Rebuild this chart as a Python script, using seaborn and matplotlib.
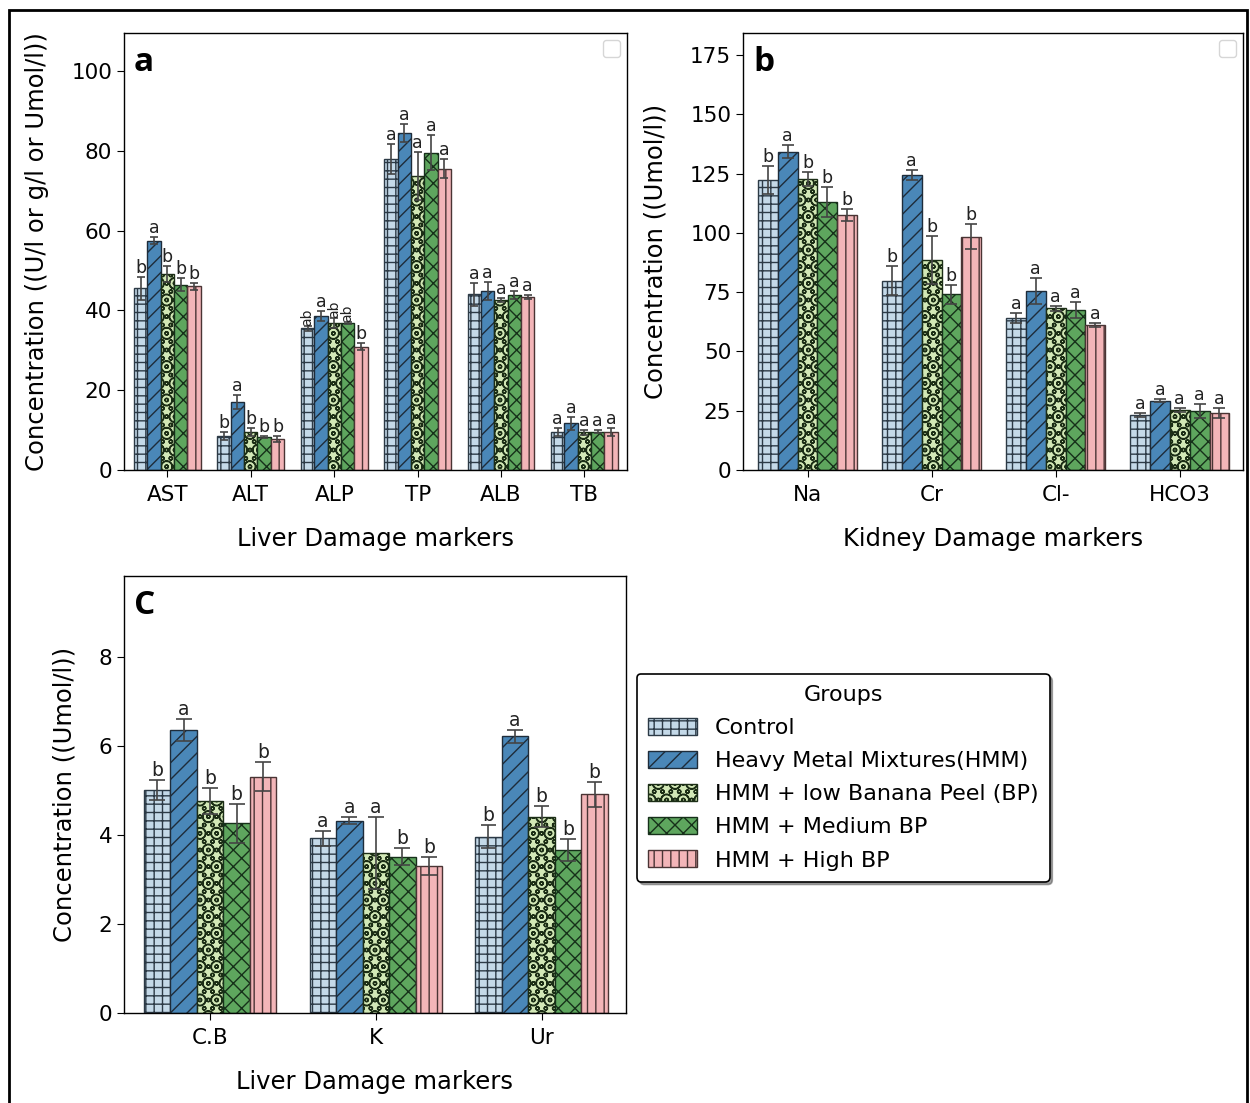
import numpy as np
import pandas as pd
import matplotlib

matplotlib.use("Agg")
import matplotlib.pyplot as plt
from matplotlib.patches import Patch, Rectangle
import seaborn as sns

# ---------------------------------------------------------------
# data (mean, error, letter)
# ---------------------------------------------------------------
groups = ["Control", "Heavy Metal Mixtures(HMM)", "HMM + low Banana Peel (BP)",
          "HMM + Medium BP", "HMM + High BP"]

liver_markers = ["AST", "ALT", "ALP", "TP", "ALB", "TB"]
liver_means = [
    [45.5, 8.5, 35.5, 77.9, 44.0, 9.4],
    [57.5, 17.1, 38.6, 84.5, 44.9, 11.7],
    [49.0, 9.4, 36.8, 73.7, 42.6, 9.4],
    [46.4, 8.2, 36.9, 79.5, 43.9, 9.6],
    [46.0, 7.8, 30.9, 75.5, 43.4, 9.4],
]
liver_errs = [
    [2.8, 0.9, 0.6, 3.7, 2.8, 1.0],
    [1.0, 1.7, 1.3, 2.2, 2.3, 1.7],
    [2.0, 1.0, 1.2, 6.0, 0.4, 0.6],
    [1.6, 0.3, 0.3, 4.4, 1.0, 0.3],
    [0.8, 0.7, 0.8, 2.3, 0.5, 1.0],
]
liver_letters = [
    ["b", "b", "ab", "a", "a", "a"],
    ["a", "a", "a", "a", "a", "a"],
    ["b", "b", "ab", "a", "a", "a"],
    ["b", "b", "ab", "a", "a", "a"],
    ["b", "b", "b", "a", "a", "a"],
]

kidney_markers = ["Na", "Cr", "Cl-", "HCO3"]
kidney_means = [
    [122.3, 79.8, 64.0, 23.2],
    [134.2, 124.4, 75.6, 29.2],
    [122.7, 88.6, 68.2, 25.3],
    [113.2, 74.1, 67.5, 25.0],
    [107.5, 98.4, 61.1, 23.9],
]
kidney_errs = [
    [6.0, 6.2, 2.1, 0.7],
    [2.8, 2.1, 5.5, 0.7],
    [2.8, 10.0, 1.0, 1.0],
    [6.3, 3.9, 3.5, 3.0],
    [2.4, 5.2, 1.0, 2.1],
]
kidney_letters = [
    ["b", "b", "a", "a"],
    ["a", "a", "a", "a"],
    ["b", "b", "a", "a"],
    ["b", "b", "a", "a"],
    ["b", "b", "a", "a"],
]

other_markers = ["C.B", "K", "Ur"]
other_means = [
    [5.01, 3.93, 3.96],
    [6.36, 4.32, 6.22],
    [4.77, 3.60, 4.41],
    [4.26, 3.51, 3.66],
    [5.31, 3.31, 4.91],
]
other_errs = [
    [0.23, 0.17, 0.26],
    [0.25, 0.08, 0.15],
    [0.29, 0.81, 0.24],
    [0.44, 0.19, 0.25],
    [0.32, 0.20, 0.29],
]
other_letters = [
    ["b", "a", "b"],
    ["a", "a", "a"],
    ["b", "a", "b"],
    ["b", "b", "b"],
    ["b", "b", "b"],
]

colors = ["#c4d9e8", "#4a87b8", "#d2e8b6", "#5ea65e", "#f3b5b8"]
edges = ["#2c3a46", "#1e2c3a", "#1c2e16", "#16301a", "#4a3434"]
hatches = ["++", "//", "Ooo", "xx", "||"]

plt.rcParams["font.family"] = ["DejaVu Sans"]
plt.rcParams["hatch.linewidth"] = 1.0


def long_table(markers, means):
    rows = []
    for g, vals in zip(groups, means):
        for m, v in zip(markers, vals):
            rows.append({"marker": m, "group": g, "value": v})
    return pd.DataFrame(rows)


def draw_panel(ax, markers, means, errs, letters, tag, xlabel, ylabel,
               ylim, yticks, letter_size):
    df = long_table(markers, means)
    sns.barplot(data=df, x="marker", y="value", hue="group", order=markers,
                hue_order=groups, palette=dict(zip(groups, colors)),
                saturation=1, errorbar=None, width=0.8, legend=False, ax=ax)
    for gi, cont in enumerate(ax.containers):
        for bi, bar in enumerate(cont):
            bar.set_hatch(hatches[gi])
            bar.set_edgecolor(edges[gi])
            bar.set_linewidth(1.0)
            xc = bar.get_x() + bar.get_width() / 2
            half = bar.get_width() * 0.3
            m = means[gi][bi]
            e = errs[gi][bi]
            ax.vlines(xc, m - e, m + e, color="#444444", lw=1.2, zorder=4)
            ax.hlines([m - e, m + e], xc - half, xc + half, color="#444444",
                      lw=1.2, zorder=4)
            lab = letters[gi][bi]
            if len(lab) > 1:
                # long letter groups are turned on their side, as in the source
                ax.text(xc, m + e, lab, ha="center", va="bottom", rotation=90,
                        fontsize=letter_size - 2.5, color="#222222", zorder=5,
                        linespacing=0.9)
            else:
                ax.text(xc, m + e, lab, ha="center", va="bottom",
                        fontsize=letter_size, color="#222222", zorder=5)
    ax.set_xlim(-0.52, len(markers) - 0.49)
    ax.set_ylim(*ylim)
    ax.set_yticks(yticks)
    ax.tick_params(labelsize=15.5, length=5)
    ax.tick_params(axis="x", pad=6)
    ax.set_xlabel(xlabel, fontsize=17.5, labelpad=16)
    ax.set_ylabel(ylabel, fontsize=17.5, labelpad=16)
    for sp in ax.spines.values():
        sp.set_visible(True)
        sp.set_color("black")
        sp.set_linewidth(1.0)
    ax.text(0.02, 0.97, tag, transform=ax.transAxes, ha="left", va="top",
            fontsize=24, fontweight="bold", family=["Open Sans", "DejaVu Sans"])


fig = plt.figure(figsize=(12.5, 11.03), dpi=100)
ax_a = fig.add_axes([0.0992, 0.5739, 0.4024, 0.3962])
ax_b = fig.add_axes([0.5944, 0.5739, 0.4000, 0.3962])
ax_c = fig.add_axes([0.0992, 0.0816, 0.4016, 0.3962])

draw_panel(ax_a, liver_markers, liver_means, liver_errs, liver_letters, "a",
           "Liver Damage markers", "Concentration ((U/l or g/l or Umol/l))",
           (0, 109.5), [0, 20, 40, 60, 80, 100], 12.5)
draw_panel(ax_b, kidney_markers, kidney_means, kidney_errs, kidney_letters, "b",
           "Kidney Damage markers", "Concentration ((Umol/l))",
           (0, 184.3), [0, 25, 50, 75, 100, 125, 150, 175], 12.5)
draw_panel(ax_c, other_markers, other_means, other_errs, other_letters, "C",
           "Liver Damage markers", "Concentration ((Umol/l))",
           (0, 9.82), [0, 2, 4, 6, 8], 13.5)

# empty legend boxes left in panels a and b
for ax in (ax_a, ax_b):
    ax.legend(handles=[], loc="upper right", borderpad=0.6)

handles = [Patch(facecolor=c, edgecolor=e, hatch=h, label=g, lw=1.0)
           for c, e, h, g in zip(colors, edges, hatches, groups)]
leg = fig.legend(handles=handles, title="Groups", loc="upper left",
                 bbox_to_anchor=(0.5096, 0.389), borderaxespad=0,
                 fontsize=16, title_fontsize=16,
                 frameon=True, shadow=True, fancybox=True, handlelength=2.2,
                 handleheight=0.8, borderpad=0.5, labelspacing=0.58,
                 handletextpad=0.8)
leg.get_frame().set_edgecolor("black")
leg.get_frame().set_linewidth(1.2)

fig.patches.append(Rectangle((0.0072, -0.01), 0.9904, 1.0009,
                             transform=fig.transFigure, fill=False,
                             lw=2, ec="black"))

fig.savefig("out.png", dpi=100)
